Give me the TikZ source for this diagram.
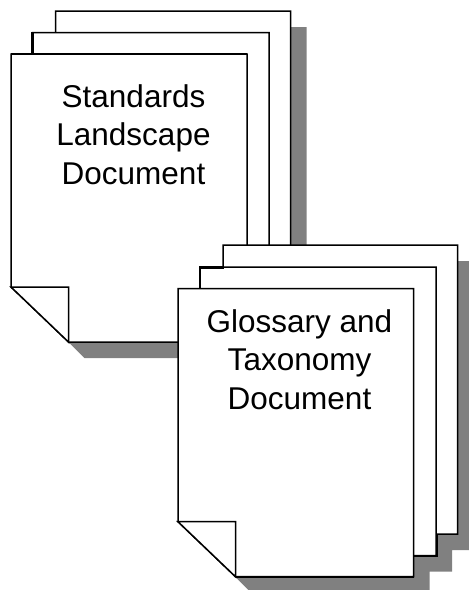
\documentclass[tikz,border=0pt]{standalone}
\usepackage{fontspec}
\setmainfont{Liberation Sans}
\tikzset{
  page/.style={draw=black,fill=white,line width=1.5pt,line join=miter},
  heavy/.style={draw=black,line width=2.3pt,line cap=rect},
  shade/.style={fill=black!50,draw=none},
  label/.style={font=\fontsize{31.5}{38.75}\selectfont,align=center,inner sep=0pt,text=black}
}
\newcommand{\sheet}[4]{% left, top, right, bottom
  \draw[page] (#1,#2) -- (#3,#2) -- (#3,#4) -- ({#1+57.5},#4) -- (#1,{#4-55}) -- cycle;
}
\newcommand{\foldcorner}[2]{% left, bottom
  \draw[page] (#1,{#2-55}) -- ({#1+57.5},{#2-55}) -- ({#1+57.5},#2) -- cycle;
}
\begin{document}
\begin{tikzpicture}[x=1pt,y=-1pt]
\useasboundingbox (0,0) rectangle (469,590);
\begin{scope}
\clip (0,0) rectangle (469,590);
% first stack
\fill[shade] (71,27) -- (306.5,27) -- (306.5,315) -- (285,315) -- (285,337) -- (263,337) -- (263,358) -- (84.5,358) -- (68.5,342) -- cycle;
\sheet{55.5}{11}{290.5}{300}
\sheet{32.5}{32.5}{269}{321}
\sheet{11}{54}{247}{342}
\foldcorner{11}{342}
\draw[heavy] (32.5,53) -- (32.5,33);
\draw[heavy,line cap=butt] (10.5,54) -- (247,54);
\node[label] (standards) at (133.5,134.5) {Standards\\Landscape\\Document};
% second stack
\fill[shade] (239,261) -- (473.5,261) -- (473.5,550) -- (452,550) -- (452,571.7) -- (429.5,571.7) -- (429.5,592.7) -- (251,592.7) -- (235,576.7) -- cycle;
\sheet{223}{245}{457.5}{534}
\sheet{200}{267}{436}{555.7}
\sheet{178}{288.5}{413.5}{576.7}
\foldcorner{178}{576.7}
\draw[heavy] (200,288) -- (200,267.5) -- (223,267.5);
\draw[heavy,line cap=butt] (235.5,576.7) -- (414,576.7);
\draw[heavy,line cap=butt] (413.5,555.7) -- (436.8,555.7) -- (436.8,534);
\node[label] (glossary) at (299.5,359.5) {Glossary and\\Taxonomy\\Document};
\end{scope}
\end{tikzpicture}
\end{document}
